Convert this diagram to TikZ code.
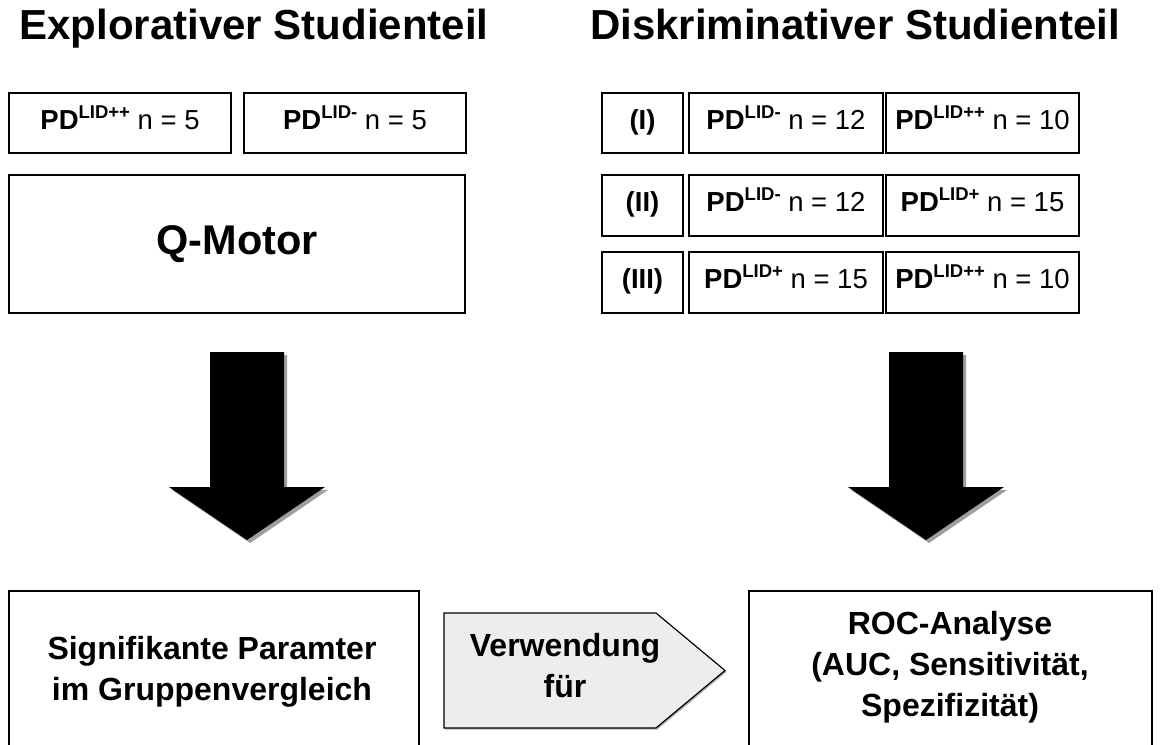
\documentclass[tikz,border=0pt]{standalone}
\usepackage{fontspec}
\setmainfont{Liberation Sans}

% group label: bold PD with raised group tag, then sample size
\newcommand\pdgroup[2]{\textbf{PD}\raisebox{11pt}{\fontsize{18.5}{18.5}\selectfont\bfseries #1} n = #2}

\begin{document}
\begin{tikzpicture}[x=1pt,y=-1pt,
  box/.style={draw, line width=1.5pt, fill=white, inner sep=0pt, align=center},
  cell/.style={box, font=\fontsize{27.5}{32}\selectfont, text height=19pt, text depth=7pt},
  heading/.style={font=\fontsize{42}{48}\selectfont\bfseries, anchor=base},
  bigtext/.style={font=\fontsize{32}{41}\selectfont\bfseries, align=center},
  blockarrow/.style={fill=black},
  blockshadow/.style={fill=black!38},
  signalbox/.style={draw, line width=1.2pt, fill=black!7},
]
\useasboundingbox (0,0) rectangle (1174,744);
\clip (0,0) rectangle (1174,744);

% headings
\node[heading] (hexp) at (254,39) {Explorativer Studienteil};
\node[heading] (hdis) at (855,39) {Diskriminativer Studienteil};

% exploratory part
\node[cell, minimum width=222pt, minimum height=60pt] (e1) at (120,123) {\pdgroup{LID++}{5}};
\node[cell, minimum width=222pt, minimum height=60pt] (e2) at (355,123) {\pdgroup{LID-}{5}};
\node[box, minimum width=456pt, minimum height=138pt,
      font=\fontsize{41.5}{48}\selectfont\bfseries] (qm) at (237,244) {Q-Motor};

% discriminative part: comparisons (I)-(III)
\foreach \r/\yc/\h/\lab/\ga/\na/\gb/\nb in {
    1/123/60/I/LID-/12/LID++/10,
    2/205.5/61/II/LID-/12/LID+/15,
    3/282.5/61/III/LID+/15/LID++/10} {
  \node[cell, minimum width=81pt, minimum height=\h pt, font=\fontsize{27.5}{32}\selectfont\bfseries]
    (k\r) at (642.5,\yc) {(\lab)};
  \node[cell, minimum width=194pt, minimum height=\h pt] (a\r) at (786,\yc) {\pdgroup{\ga}{\na}};
  \node[cell, minimum width=193pt, minimum height=\h pt] (b\r) at (982.5,\yc) {\pdgroup{\gb}{\nb}};
}

% result boxes
\node[box, minimum width=410pt, minimum height=157pt] (sig) at (214,669.5) {};
\node[bigtext] (sigtext) at (212,672) {Signifikante Paramter\\im Gruppenvergleich};
\node[box, minimum width=403pt, minimum height=157pt] (roc) at (950.5,669.5) {};
\node[bigtext] (roctext) at (950,667.5) {ROC-Analyse\\(AUC, Sensitivität,\\Spezifizität)};

% block arrows down to the results
\foreach \cx/\nm in {247/left, 926/right} {
  \fill[blockshadow, shift={(3,3)}]
    (\cx-37,352) -- (\cx+37,352) -- (\cx+37,487) -- (\cx+78,487)
    -- (\cx,540) -- (\cx-78,487) -- (\cx-37,487) -- cycle;
  \fill[blockarrow]
    (\cx-37,352) -- (\cx+37,352) -- (\cx+37,487) -- (\cx+78,487)
    -- (\cx,540) -- (\cx-78,487) -- (\cx-37,487) -- cycle;
}

% link between the two result boxes
\coordinate (sl) at (444,613);
\fill[black!30, shift={(1.5,1.5)}] (sl) -- (656,613) -- (725,670.5) -- (656,728) -- (444,728) -- cycle;
\draw[signalbox] (sl) -- (656,613) -- (725,670.5) -- (656,728) -- (444,728) -- cycle;
\node[bigtext] (use) at (565,666) {Verwendung\\für};
\end{tikzpicture}
\end{document}
